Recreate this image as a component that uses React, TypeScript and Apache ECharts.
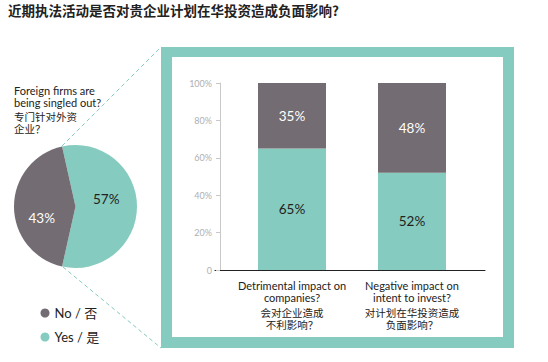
import React, { useEffect, useRef } from "react";
import * as echarts from "echarts";

const TEAL = "#86cbbf";
const GRAY = "#736c72";
const FONT = "Lato, 'Noto Sans CJK SC', sans-serif";

const title = "近期执法活动是否对贵企业计划在华投资造成负面影响?";
const pieQuestionEn = "Foreign firms are\nbeing singled out?";
const pieQuestionZh = "专门针对外资\n企业？";
const seriesNames = ["Yes / 是", "No / 否"];
const pieValues = [57, 43];
const barCategoriesEn = ["Detrimental impact on\ncompanies?", "Negative impact on\nintent to invest?"];
const barCategoriesZh = ["会对企业造成\n不利影响？", "对计划在华投资造成\n负面影响？"];
const barYes = [65, 52];
const barNo = [35, 48];
const yTicks = [0, 20, 40, 60, 80, 100];

export default function App() {
  const ref = useRef<HTMLDivElement>(null);
  useEffect(() => {
    if (!ref.current) return;
    const chart = echarts.init(ref.current, null, { renderer: "svg" });
    const cats = barCategoriesEn.map((e, i) => e + "|" + barCategoriesZh[i]);
    chart.setOption({
      animation: false,
      backgroundColor: "#fff",
      textStyle: { fontFamily: FONT },
      legend: {
        orient: "vertical",
        left: 40.5,
        top: 306.5,
        padding: 0,
        icon: "circle",
        itemWidth: 9,
        itemHeight: 9,
        itemGap: 11,
        selectedMode: false,
        data: [seriesNames[1], seriesNames[0]],
        textStyle: { fontSize: 13, color: "#222", fontFamily: FONT },
      },
      grid: [
        { left: 232, right: 76, top: 83, bottom: 92 },
        { left: 215, right: 63, top: 83, bottom: 92 },
      ],
      xAxis: [
        {
          type: "category",
          gridIndex: 0,
          data: cats,
          axisLine: { show: false },
          axisTick: { show: false },
          axisLabel: {
            margin: 9,
            interval: 0,
            formatter: (v: string) => {
              const [en, zh] = v.split("|");
              return `{en|${en}}\n{sp| }\n{zh|${zh}}`;
            },
            rich: {
              en: { fontSize: 11, lineHeight: 12, color: "#222", fontFamily: FONT },
              sp: { fontSize: 4, lineHeight: 4 },
              zh: { fontSize: 10.5, lineHeight: 12, color: "#222", fontFamily: FONT },
            },
          },
        },
        {
          type: "category",
          gridIndex: 1,
          data: cats,
          axisLine: { show: true, lineStyle: { color: "#222", width: 1 } },
          axisTick: { show: false },
          axisLabel: { show: false },
        },
      ],
      yAxis: [
        {
          type: "value",
          gridIndex: 0,
          min: 0,
          max: 100,
          interval: 20,
          offset: 12,
          splitLine: { show: false },
          axisLine: { show: true, lineStyle: { color: "#c8c8c8" } },
          axisTick: { show: true, length: 4, lineStyle: { color: "#c8c8c8" } },
          axisLabel: {
            margin: 8,
            fontSize: 9,
            color: "#b0b0b0",
            formatter: (v: number) => (yTicks.includes(v) && v !== 0 ? v + "%" : "0"),
          },
        },
        { type: "value", gridIndex: 1, show: false, min: 0, max: 100 },
      ],
      series: [
        {
          type: "pie",
          name: "pie",
          center: [75.5, 206.5],
          radius: 61.5,
          startAngle: 102.6,
          clockwise: true,
          label: {
            show: true,
            position: "inside",
            fontSize: 13.5,
            fontFamily: FONT,
            formatter: "{c}%",
          },
          labelLine: { show: false },
          labelLayout: (p: any) => (p.dataIndex === 0 ? { dx: -3, dy: -8 } : { dx: 0, dy: 11 }),
          emphasis: { disabled: true },
          data: [
            { name: seriesNames[0], value: pieValues[0], itemStyle: { color: TEAL }, label: { color: "#222" } },
            { name: seriesNames[1], value: pieValues[1], itemStyle: { color: GRAY }, label: { color: "#fff" } },
          ],
        },
        {
          type: "bar",
          name: seriesNames[0],
          xAxisIndex: 0,
          yAxisIndex: 0,
          stack: "s",
          barWidth: 68,
          itemStyle: { color: TEAL },
          label: { show: true, position: "inside", formatter: "{c}%", fontSize: 13.5, color: "#222", fontFamily: FONT },
          data: barYes,
        },
        {
          type: "bar",
          name: seriesNames[1],
          xAxisIndex: 0,
          yAxisIndex: 0,
          stack: "s",
          barWidth: 68,
          itemStyle: { color: GRAY },
          label: { show: true, position: "inside", formatter: "{c}%", fontSize: 13.5, color: "#fff", fontFamily: FONT },
          data: barNo,
        },
      ],
      graphic: [
        { type: "rect", z: -10, silent: true, shape: { x: 161, y: 47, width: 353, height: 301 }, style: { fill: TEAL } },
        { type: "rect", z: -9, silent: true, shape: { x: 172, y: 57, width: 331, height: 280 }, style: { fill: "#fff" } },
        { type: "line", z: -8, silent: true, shape: { x1: 62, y1: 146, x2: 161, y2: 47 }, style: { stroke: TEAL, lineWidth: 1, lineDash: [4, 3] } },
        { type: "line", z: -8, silent: true, shape: { x1: 63, y1: 267, x2: 161, y2: 348 }, style: { stroke: TEAL, lineWidth: 1, lineDash: [4, 3] } },
        {
          type: "text", x: 8, y: 3.5,
          style: { text: title, font: `bold 13.5px 'Noto Sans CJK SC', sans-serif`, fill: "#222" },
        },
        {
          type: "text", x: 14, y: 84,
          style: { text: pieQuestionEn, fontSize: 11, lineHeight: 12, fontFamily: FONT, fill: "#222" },
        },
        {
          type: "text", x: 14, y: 110.5,
          style: { text: pieQuestionZh, fontSize: 10.5, lineHeight: 12.6, fontFamily: FONT, fill: "#222" },
        },
      ],
    });
    return () => chart.dispose();
  }, []);
  return <div ref={ref} style={{ position: "absolute", left: 0, top: 0, width: 548, height: 362 }} />;
}
